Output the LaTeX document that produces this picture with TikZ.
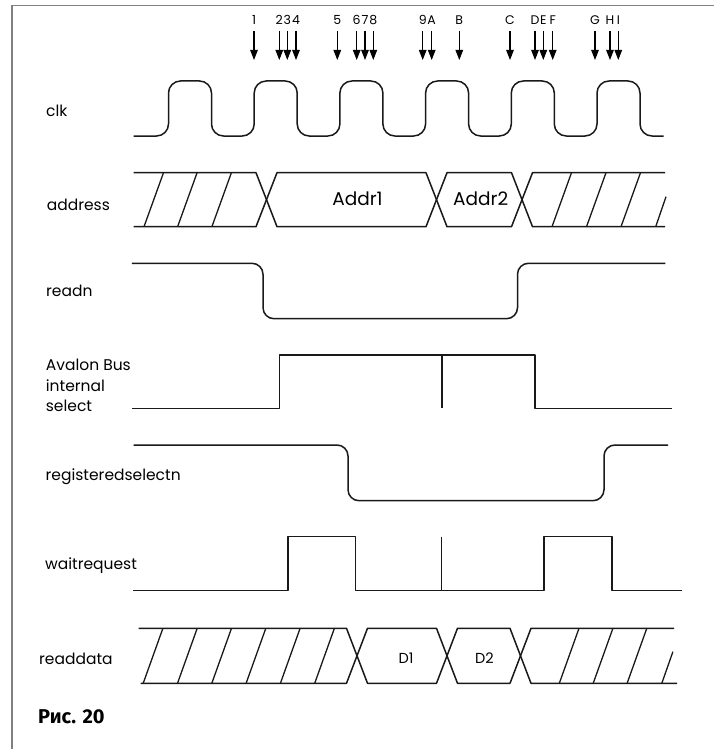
\documentclass[tikz,border=0pt]{standalone}
\usepackage{fontspec}
\setmainfont{Poppins}
\newfontfamily\capfont{Fira Sans}
\usepackage{tikz}
\usetikzlibrary{arrows.meta}

\begin{document}
\begin{tikzpicture}[
			x=1pt, y=-1pt,
			wave/.style={draw=black!90, line width=1.5pt, line join=round},
			hatch/.style={draw=black!90, line width=1.3pt},
			tick/.style={>={Triangle[length=10pt,width=7.5pt]}, draw=black, line width=1.1pt},
			tlabel/.style={font=\fontsize{12.5}{12.5}\selectfont, inner sep=0pt, text height=9pt, text depth=0pt},
			siglabel/.style={font=\fontsize{15.5}{20.3}\selectfont, anchor=base west, inner sep=0pt},
			value/.style={font=\fontsize{18.5}{18.5}\selectfont, inner sep=0pt},
			dvalue/.style={font=\fontsize{14.5}{14.5}\selectfont, inner sep=0pt},
			frame/.style={draw=gray, line width=1.5pt}
			]
			\useasboundingbox (0,0) rectangle (714,749);
			
			%% frame
			\draw[frame] (714,5.7) -- (12,5.7) -- (12,749);
			
			%% event marks
			\foreach \x/\t in {254/1, 279.3/2, 287.3/3, 296/4, 337.3/5, 356.7/6, 365/7, 373.3/8,
				422.7/9, 431.7/A, 459.3/B, 510/C, 535/D, 543.3/E, 552.7/F, 595/G, 610/H, 618.3/I} {
				\node[tlabel] (l\t) at (\x,20) {\t};
				\coordinate (t\t) at (\x,60);
				\draw[tick, ->] ([yshift=-11pt]l\t.center) -- (t\t);
			}
			
			%% signal names
			\node[siglabel] (clk) at (46,117) {clk};
			\node[siglabel] (address) at (46.7,210) {address};
			\node[siglabel] (readn) at (46,296) {readn};
			\node[siglabel, align=left] (avsel) at (45.7,411.3) {Avalon Bus\\internal\\select};
			\node[siglabel] (regsel) at (45.5,480) {registeredselectn};
			\node[siglabel] (waitreq) at (45,569) {waitrequest};
			\node[siglabel] (readdata) at (39,664) {readdata};
			
			%% clk
			\coordinate (clkstart) at (133.6,136);
			\coordinate (clkend) at (663.6,136);
			\draw[wave, rounded corners=12pt] (clkstart)
				foreach \k in {0,...,5} { -- ({168.5+85.7*\k},136) -- ++(0,-55) -- ++(43,0) -- ++(0,55) }
				-- (clkend);
			
			%% address
			\draw[wave] (133.6,172.7) -- (256,172.7) -- (277,226.7) -- (426,226.7) -- (447,172.7)
				-- (511.5,172.7) -- (532.5,226.7) -- (665,226.7);
			\draw[wave] (133.6,226.7) -- (256,226.7) -- (277,172.7) -- (426,172.7) -- (447,226.7)
				-- (511.5,226.7) -- (532.5,172.7) -- (665,172.7);
			\foreach \b in {144,177.6,211.9,552,586.5,621}
				\draw[hatch] (\b,226.7) -- ++(19.5,-54);
			\draw[hatch] (655.7,226.7) -- (666,196.7);
			\node[value] (addr1) at (357.5,198.3) {Addr1};
			\node[value] (addr2) at (480.7,198.3) {Addr2};
			
			%% readn
			\draw[wave, rounded corners=11pt] (131.8,263.3) -- (263,263.3) -- (263,318.7)
				-- (517.5,318.7) -- (517.5,263.3) -- (665.4,263.3);
			
			%% Avalon Bus internal select
			\draw[wave] (131.8,408.3) -- (279.6,408.3) -- (279.6,355) -- (535,355)
				-- (535,408.3) -- (671.8,408.3);
			\draw[wave] (441.8,355) -- (441.8,408.3);
			
			%% registeredselectn
			\draw[wave, rounded corners=11pt] (133.6,445) -- (348,445) -- (348,500.7)
				-- (604,500.7) -- (604,445) -- (668.2,445);
			
			%% waitrequest
			\draw[wave] (133.2,590.7) -- (288.2,590.7) -- (288.2,536.7) -- (355.4,536.7)
				-- (355.4,590.7) -- (543.9,590.7) -- (543.9,536.7) -- (611.8,536.7)
				-- (611.8,590.7) -- (682,590.7);
			\draw[wave] (441.4,536.7) -- (441.4,590.7);
			
			%% readdata
			\draw[wave] (138.6,628.3) -- (346.5,628.3) -- (367.5,683.3) -- (436.5,683.3) -- (457.5,628.3)
				-- (510,628.3) -- (531,683.3) -- (677,683.3);
			\draw[wave] (140.7,683.3) -- (346.5,683.3) -- (367.5,628.3) -- (436.5,628.3) -- (457.5,683.3)
				-- (510,683.3) -- (531,628.3) -- (674,628.3);
			\foreach \b in {143.2,177.5,211.8,246.1,280.4,314.7,559.3,593.2,627.1}
				\draw[hatch] (\b,683.3) -- ++(19.7,-55);
			\draw[hatch] (661.8,683.3) -- (672.9,651.7);
			\node[dvalue] (d1) at (406,658.3) {D1};
			\node[dvalue] (d2) at (484.3,658.3) {D2};
			
			\node[anchor=base west, inner sep=0pt, font=\capfont\bfseries\fontsize{20}{20}\selectfont] (fig) at (38,723) {Рис. 20};
			
		\end{tikzpicture}
\end{document}
